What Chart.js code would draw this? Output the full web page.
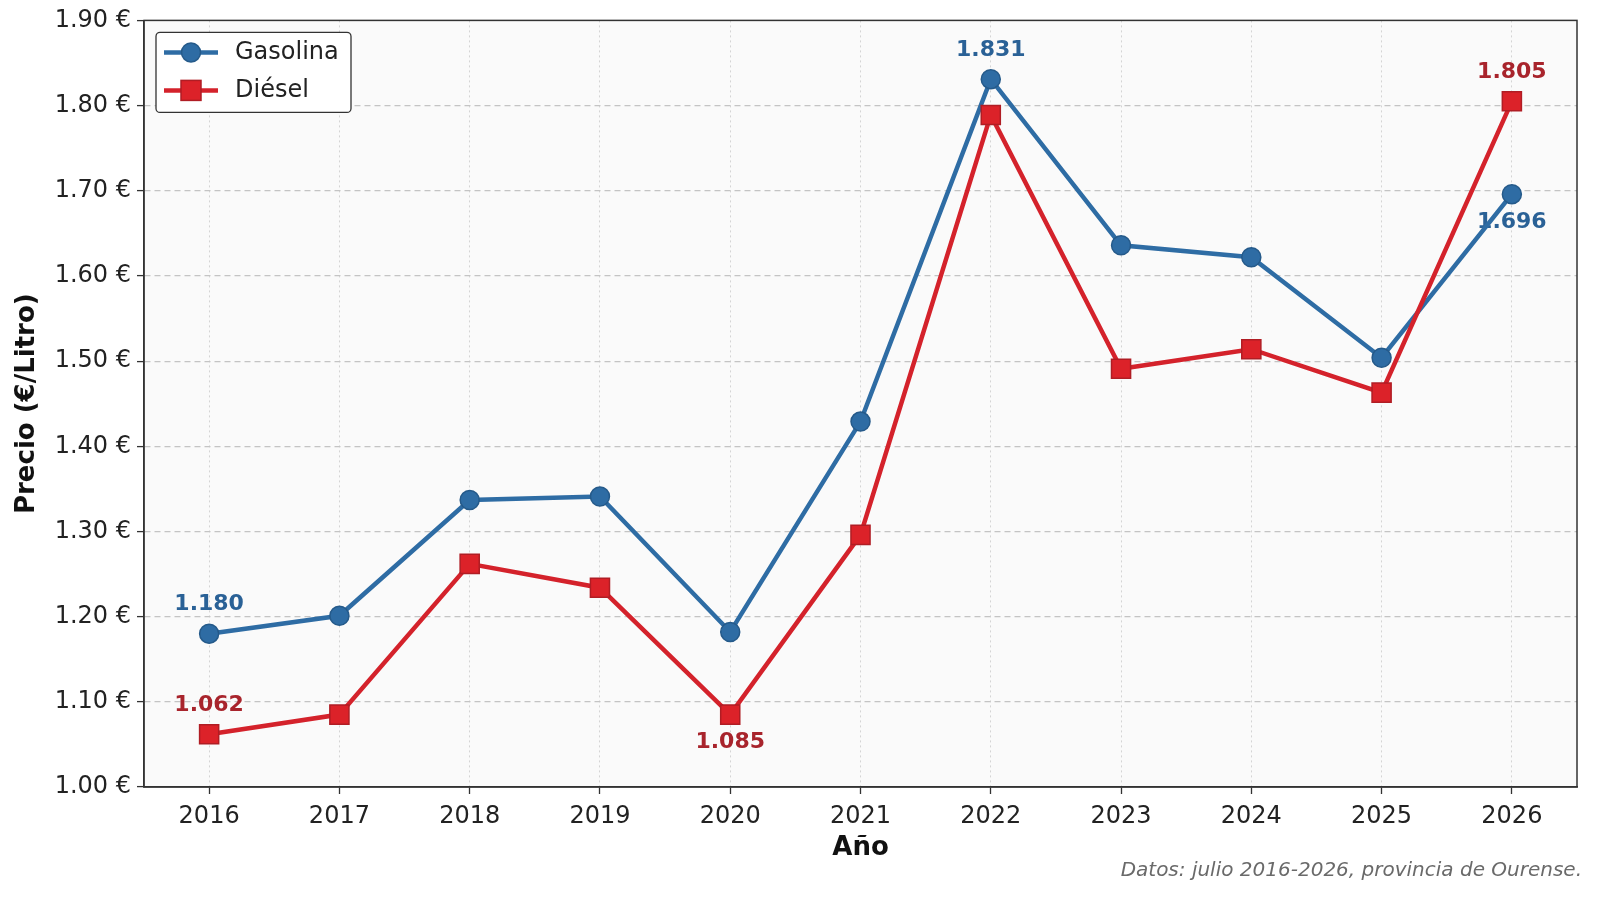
<!DOCTYPE html>
<html lang="es">
<head>
<meta charset="utf-8">
<title>Precio gasolina y diésel - Ourense</title>
<script src="https://cdn.jsdelivr.net/npm/chart.js@4.4.1/dist/chart.umd.min.js"></script>
<style>
  html, body { margin: 0; padding: 0; background: #fff; }
  #wrap { width: 1600px; height: 897px; position: relative; }
</style>
</head>
<body>
<div id="wrap"><canvas id="priceChart"></canvas></div>
<script>
const years = ['2016', '2017', '2018', '2019', '2020', '2021', '2022', '2023', '2024', '2025', '2026'];
const gasolina = [1.180, 1.201, 1.337, 1.341, 1.182, 1.429, 1.831, 1.636, 1.622, 1.504, 1.696];
const diesel = [1.062, 1.085, 1.262, 1.234, 1.085, 1.296, 1.789, 1.491, 1.514, 1.463, 1.805];
const yMin = 1.0;
const yMax = 1.9;
const yStep = 0.1;
// which points get a value label, and on which side
const gasolinaLabels = [[0, 'above'], [6, 'above'], [10, 'below']];
const dieselLabels = [[0, 'above'], [4, 'below'], [10, 'above']];
const sourceNote = 'Datos: julio 2016-2026, provincia de Ourense.';

const FONT = "'DejaVu Sans', sans-serif";
const BLUE = '#2e6ca4';
const RED = '#d4222b';

const plotFrame = {
    id: 'plotFrame',
    beforeDraw: (chart) => {
        const { ctx, chartArea: a } = chart;
        ctx.save();
        ctx.fillStyle = '#fafafa';
        ctx.fillRect(a.left, a.top, a.right - a.left, a.bottom - a.top);
        ctx.restore();
    },
    afterDraw: (chart) => {
        const { ctx, chartArea: a } = chart;
        ctx.save();
        ctx.strokeStyle = '#333';
        ctx.lineWidth = 1.5;
        ctx.strokeRect(a.left, a.top, a.right - a.left, a.bottom - a.top);
        // source note, bottom right
        ctx.font = 'italic 20px ' + FONT;
        ctx.fillStyle = '#6a6a6a';
        ctx.textAlign = 'right';
        ctx.textBaseline = 'middle';
        ctx.fillText(sourceNote, chart.width - 18, chart.height - 26);
        ctx.restore();
    }
};

const valueLabels = {
    id: 'valueLabels',
    beforeDatasetsDraw: (chart) => {
        const { ctx } = chart;
        const sets = [[0, gasolinaLabels, '#2a6196'], [1, dieselLabels, '#a8242c']];
        ctx.save();
        ctx.font = 'bold 22px ' + FONT;
        ctx.textAlign = 'center';
        ctx.textBaseline = 'middle';
        sets.forEach(([di, list, color]) => {
            const meta = chart.getDatasetMeta(di);
            const values = chart.data.datasets[di].data;
            ctx.fillStyle = color;
            list.forEach(([idx, side]) => {
                const pt = meta.data[idx];
                const dy = side === 'above' ? -29 : 28;
                ctx.fillText(values[idx].toFixed(3), pt.x, pt.y + dy);
            });
        });
        ctx.restore();
    }
};

const boxLegend = {
    id: 'boxLegend',
    afterDraw: (chart) => {
        const { ctx, chartArea: a } = chart;
        const x = a.left + 12, y = a.top + 12, w = 195, h = 80;
        ctx.save();
        ctx.beginPath();
        ctx.roundRect(x, y, w, h, 4);
        ctx.fillStyle = '#ffffff';
        ctx.fill();
        ctx.strokeStyle = '#333';
        ctx.lineWidth = 1.3;
        ctx.stroke();
        ctx.font = '24px ' + FONT;
        ctx.textBaseline = 'middle';
        chart.data.datasets.forEach((ds, i) => {
            const cy = y + 20 + i * 38;
            ctx.strokeStyle = ds.borderColor;
            ctx.lineWidth = ds.borderWidth;
            ctx.beginPath();
            ctx.moveTo(x + 8, cy);
            ctx.lineTo(x + 62, cy);
            ctx.stroke();
            ctx.fillStyle = ds.pointBackgroundColor;
            ctx.strokeStyle = ds.pointBorderColor;
            ctx.lineWidth = 1.5;
            if (ds.pointStyle === 'rect') {
                ctx.fillRect(x + 25, cy - 10, 20, 20);
                ctx.strokeRect(x + 25, cy - 10, 20, 20);
            } else {
                ctx.beginPath();
                ctx.arc(x + 35, cy, 9.5, 0, Math.PI * 2);
                ctx.fill();
                ctx.stroke();
            }
            ctx.fillStyle = '#222';
            ctx.fillText(ds.label, x + 79, cy);
        });
        ctx.restore();
    }
};

const createChart = () => {
    const ctx = document.getElementById('priceChart').getContext('2d');
    return new Chart(ctx, {
        type: 'line',
        data: {
            labels: years,
            datasets: [{
                label: 'Gasolina',
                data: gasolina,
                borderColor: BLUE,
                borderWidth: 4.5,
                pointStyle: 'circle',
                pointRadius: 9.5,
                pointBackgroundColor: BLUE,
                pointBorderColor: '#255a8a',
                pointBorderWidth: 1.5,
                tension: 0,
                order: 1
            }, {
                label: 'Diésel',
                data: diesel,
                borderColor: RED,
                borderWidth: 4.5,
                pointStyle: 'rect',
                pointRadius: 13.5,
                pointBackgroundColor: '#dc2229',
                pointBorderColor: '#b01d24',
                pointBorderWidth: 1.5,
                tension: 0,
                order: 0
            }]
        },
        options: {
            responsive: true,
            maintainAspectRatio: false,
            animation: false,
            layout: { padding: { top: 18, right: 23, left: 0, bottom: 0 } },
            scales: {
                x: {
                    type: 'category',
                    offset: true,
                    afterFit: (scale) => { scale.height = 110; },
                    grid: {
                        offset: false,
                        color: '#d4d4d4',
                        lineWidth: 1,
                        tickColor: '#333',
                        tickLength: 7,
                        tickWidth: 1.3
                    },
                    border: { color: '#333', width: 1.5, dash: [2, 3] },
                    ticks: {
                        color: '#222',
                        padding: 8,
                        font: { family: FONT, size: 24 }
                    },
                    title: {
                        display: true,
                        text: 'Año',
                        color: '#111',
                        font: { family: FONT, size: 26, weight: 'bold' },
                        padding: { top: 0, bottom: 33 }
                    }
                },
                y: {
                    min: yMin,
                    max: yMax,
                    afterFit: (scale) => { scale.width = 144; },
                    grid: {
                        color: (c) => {
                            const v = c.tick ? c.tick.value : 0;
                            return (Math.abs(v - yMin) < 1e-6 || Math.abs(v - yMax) < 1e-6) ? 'rgba(0,0,0,0)' : '#c4c4c4';
                        },
                        lineWidth: 1.2,
                        tickColor: '#333',
                        tickLength: 7,
                        tickWidth: 1.3
                    },
                    border: { color: '#333', width: 1.5, dash: [6, 4] },
                    ticks: {
                        stepSize: yStep,
                        color: '#222',
                        padding: 6,
                        font: { family: FONT, size: 24 },
                        callback: (v) => v.toFixed(2) + ' €'
                    },
                    title: {
                        display: true,
                        text: 'Precio (€/Litro)',
                        color: '#111',
                        font: { family: FONT, size: 26, weight: 'bold' },
                        padding: { top: 12, bottom: 0 }
                    }
                }
            },
            plugins: {
                legend: { display: false },
                tooltip: { enabled: false }
            }
        },
        plugins: [plotFrame, valueLabels, boxLegend]
    });
};

document.addEventListener('DOMContentLoaded', () => {
    createChart();
});
</script>
</body>
</html>
